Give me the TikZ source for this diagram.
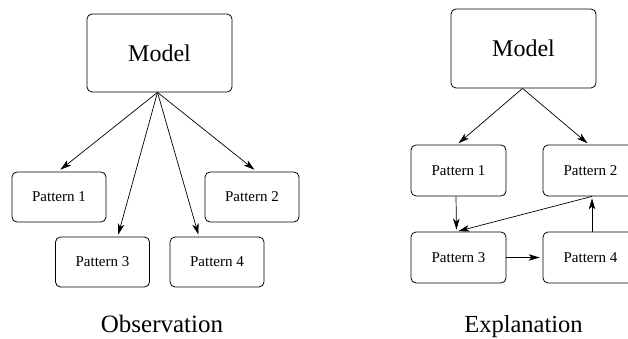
\documentclass[tikz,border=0pt]{standalone}
\usepackage{fontspec}
\setmainfont{Liberation Serif}
\usetikzlibrary{arrows.meta,calc}
\begin{document}
\begin{tikzpicture}[x=1pt,y=-1pt,
  box/.style={draw,rounded corners=5pt,line width=0.8pt,inner sep=0pt},
  bigbox/.style={box,minimum width=145pt,minimum height=78pt,font=\fontsize{24}{28}\selectfont},
  pbox/.style={box,minimum width=94pt,minimum height=50pt,font=\fontsize{15}{18}\selectfont},
  arr/.style={line width=0.7pt,-{Stealth[length=11pt,width=6.5pt,inset=3pt]}},
  captext/.style={anchor=base,font=\fontsize{25}{30}\selectfont}]
\useasboundingbox (0,0) rectangle (628,339);
\clip (0,0) rectangle (628,339);
% left: Observation
\node[bigbox] (ml) at (159.5,53) {Model};
\node[pbox] (p1) at (59,197) {Pattern 1};
\node[pbox] (p2) at (252,197) {Pattern 2};
\node[pbox] (p3) at (102.5,262) {Pattern 3};
\node[pbox] (p4) at (217,262) {Pattern 4};
\coordinate (t1) at ($(p1.north west)!0.49!(p1.north east)$);
\coordinate (t2) at ($(p2.north west)!0.55!(p2.north east)$);
\coordinate (t3) at ($(p3.north west)!0.66!(p3.north east)$);
\coordinate (t4) at ($(p4.north west)!0.31!(p4.north east)$);
\coordinate (o) at ($(ml.south)+(-2,0)$);
\draw[arr,shorten >=3pt] (o) -- (t1);
\draw[arr,shorten >=2pt] (o) -- (t3);
\draw[arr,shorten >=2pt] (o) -- (t4);
\draw[arr,shorten >=3pt] (o) -- (t2);
\node[captext] (obs) at (162,332) {Observation};
% right: Explanation
\node[bigbox,minimum height=79pt] (mr) at (523.5,48.5) {Model};
\node[pbox,minimum width=95pt,minimum height=51pt] (q1) at (458.5,170.5) {Pattern 1};
\node[pbox,minimum width=95pt,minimum height=51pt] (q2) at (590.5,170.5) {Pattern 2};
\node[pbox,minimum width=95pt,minimum height=51pt] (q3) at (458.5,257.5) {Pattern 3};
\node[pbox,minimum width=95pt,minimum height=51pt] (q4) at (590.5,257.5) {Pattern 4};
\coordinate (m) at ($(mr.south)+(-1,0)$);
\coordinate (q1n) at ($(q1.north)+(-1.5,0)$);
\coordinate (q2n) at ($(q2.north)+(-1.5,0)$);
\coordinate (q1s) at ($(q1.south)+(-2.5,0)$);
\coordinate (q3n) at ($(q3.north)+(-2,0)$);
\coordinate (q2s) at ($(q2.south)+(1.5,0)$);
\coordinate (q4n) at ($(q4.north)+(1.5,0)$);
\draw[arr,shorten >=2pt] (m) -- (q1n);
\draw[arr,shorten >=2pt] (m) -- (q2n);
\draw[arr,shorten >=2pt] (q1s) -- (q3n);
\draw[arr,shorten >=2pt] (q2s) -- (q3n);
\draw[arr,shorten >=3pt] (q3.east) -- (q4.west);
\draw[arr,shorten >=2pt] (q4n) -- (q2s);
\node[captext,font=\fontsize{24.5}{30}\selectfont] (exp) at (523.5,332) {Explanation};
\end{tikzpicture}
\end{document}
